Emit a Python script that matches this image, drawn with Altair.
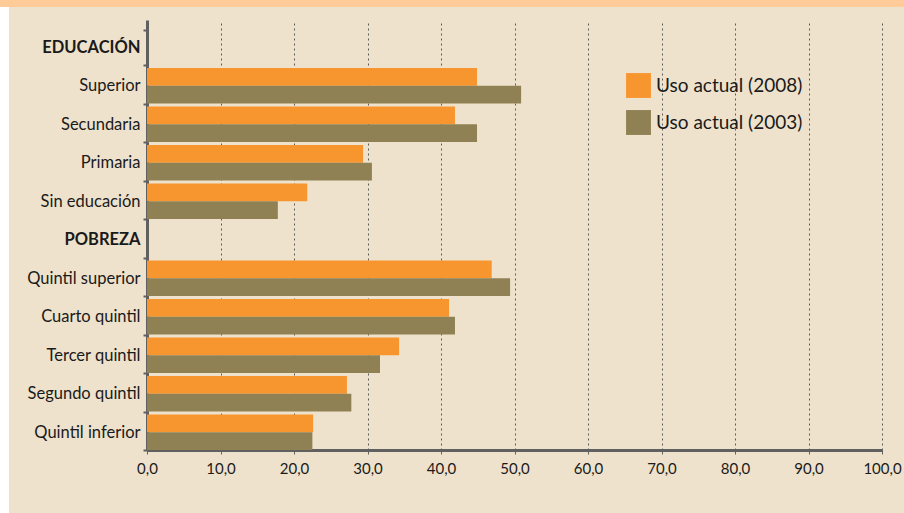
import altair as alt
import pandas as pd

categories = ["EDUCACIÓN", "Superior", "Secundaria", "Primaria", "Sin educación",
              "POBREZA", "Quintil superior", "Cuarto quintil", "Tercer quintil",
              "Segundo quintil", "Quintil inferior"]
rows = ["Superior", "Secundaria", "Primaria", "Sin educación",
        "Quintil superior", "Cuarto quintil", "Tercer quintil",
        "Segundo quintil", "Quintil inferior"]
uso_2008 = [44.9, 41.9, 29.4, 21.8, 46.9, 41.1, 34.3, 27.2, 22.6]
uso_2003 = [50.9, 44.9, 30.6, 17.8, 49.4, 41.9, 31.7, 27.8, 22.5]
series = ["Uso actual (2008)", "Uso actual (2003)"]
colors = ["#F7962F", "#8F8153"]
x_ticks = [0, 10, 20, 30, 40, 50, 60, 70, 80, 90, 100]

records = []
for cat, a, b in zip(rows, uso_2008, uso_2003):
    records.append({"cat": cat, "serie": series[0], "valor": a})
    records.append({"cat": cat, "serie": series[1], "valor": b})
df = pd.DataFrame(records)

W, H = 735, 430
PL, PT, PR, PB = 147, 20, 22, 63

bars = alt.Chart(df).mark_bar(opacity=1).encode(
    x=alt.X("valor:Q",
            scale=alt.Scale(domain=[0, 100], nice=False, zero=True),
            axis=alt.Axis(values=x_ticks, title=None,
                          labelExpr="replace(format(datum.value, '.1f'), '.', ',')",
                          labelFlush=False,
                          grid=True, gridDash=[2, 3], gridColor="#5a5a5a",
                          gridWidth=1, gridOpacity=1,
                          domainColor="#606060", domainWidth=3,
                          tickColor="#606060", tickSize=4, tickWidth=1,
                          labelFontSize=15, labelFont="Lato", labelColor="#1a1a1a",
                          labelPadding=7)),
    y=alt.Y("cat:N",
            scale=alt.Scale(domain=categories, paddingInner=0.08,
                            paddingOuter=0.125, align=1),
            axis=alt.Axis(title=None, grid=False, tickBand="extent",
                          domainColor="#606060", domainWidth=3,
                          tickColor="#606060", tickSize=4, tickWidth=2,
                          labelFontSize=16.5, labelFont="Lato", labelColor="#1a1a1a",
                          labelPadding=3,
                          labelFontWeight=alt.condition(
                              "datum.value == 'EDUCACIÓN' || datum.value == 'POBREZA'",
                              alt.value("bold"), alt.value("normal")))),
    yOffset=alt.YOffset("serie:N", sort=series,
                        scale=alt.Scale(paddingInner=0, paddingOuter=0)),
    color=alt.Color("serie:N", sort=series,
                    scale=alt.Scale(domain=series, range=colors),
                    legend=alt.Legend(title=None, orient="none",
                                      legendX=479, legendY=53,
                                      symbolType="square", symbolSize=620,
                                      symbolStrokeWidth=0, symbolOpacity=1,
                                      labelFontSize=19, labelFont="Lato",
                                      labelColor="#1a1a1a", labelOffset=5,
                                      labelLimit=300,
                                      rowPadding=12, padding=0)),
)

# decorative page band (white strip at left, orange band at top)
white_strip = alt.Chart(pd.DataFrame({"k": [0]})).mark_rect(color="#FFFFFF").encode(
    x=alt.value(-PL), x2=alt.value(-PL + 9), y=alt.value(-PT), y2=alt.value(H + PB))
top_band = alt.Chart(pd.DataFrame({"k": [0]})).mark_rect(color="#FFCC99").encode(
    x=alt.value(-PL), x2=alt.value(W + PR), y=alt.value(-PT), y2=alt.value(-PT + 7))

chart = alt.layer(bars, white_strip, top_band).properties(
    width=W, height=H,
    autosize=alt.AutoSizeParams(type="none"),
    padding={"left": PL, "top": PT, "right": PR, "bottom": PB},
    background="#EEE2CC",
).configure_view(stroke=None, fill=None)

chart.save("out.html", embed_options={"renderer": "svg", "actions": False})
